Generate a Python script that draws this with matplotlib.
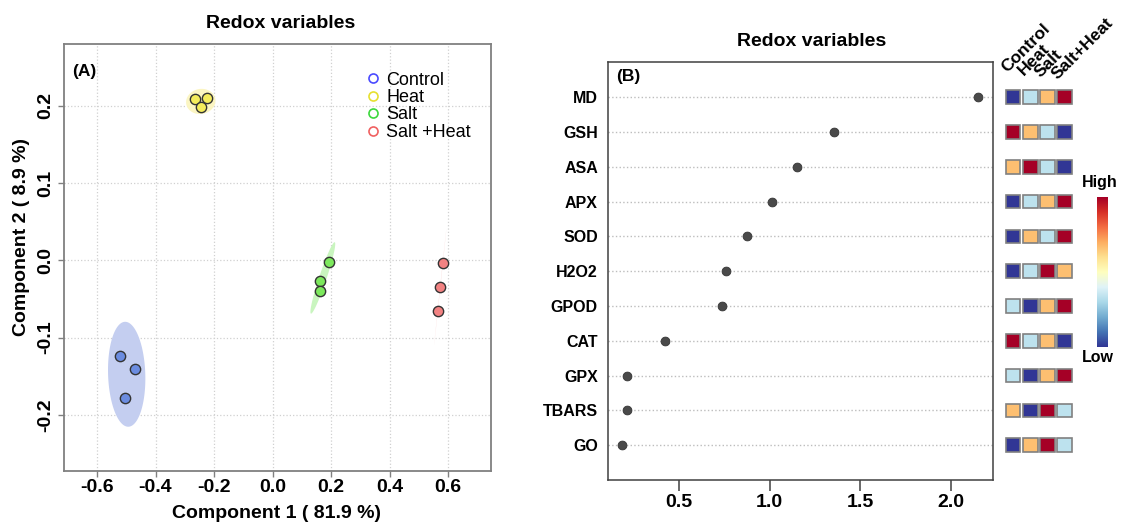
import numpy as np
import matplotlib
matplotlib.use("Agg")
import matplotlib.pyplot as plt
from matplotlib.patches import Rectangle
from matplotlib.lines import Line2D

plt.rcParams['font.family'] = ['Liberation Sans', 'DejaVu Sans']

# ---------------- data ----------------
groups = ['Control', 'Heat', 'Salt', 'Salt +Heat']
ctrl_pc1 = [-0.521, -0.470, -0.505]
ctrl_pc2 = [-0.124, -0.140, -0.178]
heat_pc1 = [-0.266, -0.225, -0.245]
heat_pc2 = [0.209, 0.210, 0.198]
salt_pc1 = [0.192, 0.162, 0.162]
salt_pc2 = [-0.002, -0.027, -0.039]
sh_pc1 = [0.582, 0.573, 0.565]
sh_pc2 = [-0.004, -0.035, -0.065]

x_ticks_a = [-0.6, -0.4, -0.2, 0.0, 0.2, 0.4, 0.6]
y_ticks_a = [-0.2, -0.1, 0.0, 0.1, 0.2]

variables = ['MD', 'GSH', 'ASA', 'APX', 'SOD', 'H2O2', 'GPOD', 'CAT', 'GPX', 'TBARS', 'GO']
vip_scores = [2.149, 1.355, 1.150, 1.011, 0.875, 0.759, 0.735, 0.423, 0.214, 0.212, 0.182]
heat_groups = ['Control', 'Heat', 'Salt', 'Salt+Heat']
# relative level rank (1 = low ... 4 = high) per variable, columns = heat_groups
level_control = [1, 4, 3, 1, 1, 1, 2, 4, 2, 3, 1]
level_heat = [2, 3, 4, 2, 3, 2, 1, 2, 1, 1, 3]
level_salt = [3, 2, 2, 3, 2, 4, 3, 3, 3, 4, 4]
level_saltheat = [4, 1, 1, 4, 4, 3, 4, 1, 4, 2, 2]
x_ticks_b = [0.5, 1.0, 1.5, 2.0]

# ---------------- figure ----------------
W, H = 1121, 524
fig = plt.figure(figsize=(W / 100, H / 100), dpi=100)


def px_axes(x0, y0, x1, y1):
    return fig.add_axes([x0 / W, 1 - y1 / H, (x1 - x0) / W, (y1 - y0) / H])


def ftext(x, y, s, **kw):
    fig.text(x / W, 1 - y / H, s, **kw)


# ---------------- panel A ----------------
axA = px_axes(64, 44, 491, 471)
axA.set_xlim(-0.713, 0.747)
axA.set_ylim(-0.2725, 0.280)
axA.set_xticks(x_ticks_a)
axA.set_yticks(y_ticks_a)
axA.set_xticklabels([f"{v:.1f}" for v in x_ticks_a], fontsize=14, fontweight='bold')
axA.set_yticklabels([f"{v:.1f}" for v in y_ticks_a], fontsize=14, fontweight='bold',
                    rotation=90, va='center')
axA.tick_params(axis='both', length=4, width=1, color='#808080', pad=2)
axA.tick_params(axis='y', pad=3)
axA.grid(True, linestyle=':', color='#d0d0d0', linewidth=0.9)
axA.set_axisbelow(True)
for sp in axA.spines.values():
    sp.set_color('#808080')
    sp.set_linewidth(1.3)

fill_cols = ['#6b8ce0', '#f4ec5c', '#7ce85c', '#f28282']
ell_cols = ['#c4cef0', '#fbf5c2', '#c9f5bf', '#fbdada']
leg_cols = ['#4a4aff', '#e6e030', '#3cd83c', '#f06060']
pc1_all = [ctrl_pc1, heat_pc1, salt_pc1, sh_pc1]
pc2_all = [ctrl_pc2, heat_pc2, salt_pc2, sh_pc2]

k = np.sqrt(5.991)  # 95% chi-square, 2 dof
t = np.linspace(0, 2 * np.pi, 200)
for xs, ys, ec in zip(pc1_all, pc2_all, ell_cols):
    xs = np.asarray(xs); ys = np.asarray(ys)
    cov = np.cov(np.vstack([xs, ys]))
    vals, vecs = np.linalg.eigh(cov)
    vals = np.clip(vals, 1e-9, None)
    circ = np.vstack([np.cos(t), np.sin(t)])
    pts = vecs @ (np.sqrt(vals)[:, None] * circ) * k
    axA.fill(xs.mean() + pts[0], ys.mean() + pts[1], color=ec, lw=0, zorder=1)

for xs, ys, fc in zip(pc1_all, pc2_all, fill_cols):
    axA.scatter(xs, ys, s=55, facecolor=fc, edgecolor='#333333', linewidth=1.0, zorder=3)

handles = [Line2D([], [], marker='o', linestyle='none', markerfacecolor='none',
                  markeredgecolor=c, markersize=6.5, markeredgewidth=1.2) for c in leg_cols]
axA.legend(handles, groups, loc='upper left', bbox_to_anchor=(0.712, 0.935),
           frameon=False, fontsize=13, handlelength=0.6, handletextpad=0.4,
           labelspacing=0.02, borderpad=0, borderaxespad=0)

axA.text(0.018, 0.935, '(A)', transform=axA.transAxes, fontsize=12.5,
         fontweight='bold', ha='left', va='center')
ftext(281, 23, 'Redox variables', fontsize=14, fontweight='bold', ha='center', va='center')
ftext(277, 513, 'Component 1 ( 81.9 %)', fontsize=14, fontweight='bold', ha='center', va='center')
ftext(21.7, 237.5, 'Component 2 ( 8.9 %)', fontsize=14, fontweight='bold', ha='center',
      va='center', rotation=90)

# ---------------- panel B ----------------
axB = px_axes(607.6, 62.3, 992.9, 480)
n = len(variables)
ypos = np.arange(n, 0, -1)
axB.set_xlim(0.105, 2.232)
axB.set_ylim(0, 12)
for y in ypos:
    axB.axhline(y, color='#bdbdbd', linestyle=':', linewidth=1.0, zorder=1)
axB.scatter(vip_scores, ypos, s=40, color='#4a4a4a', edgecolor='#333333', linewidth=0.6, zorder=3)
axB.set_yticks(ypos)
axB.set_yticklabels(variables, fontsize=11.5, fontweight='bold')
axB.set_xticks(x_ticks_b)
axB.set_xticklabels([f"{v:.1f}" for v in x_ticks_b], fontsize=14, fontweight='bold')
axB.tick_params(axis='y', length=0, pad=7)
axB.tick_params(axis='x', length=8, width=1.1, color='#404040', pad=2)
for sp in axB.spines.values():
    sp.set_color('#404040')
    sp.set_linewidth(1.1)
axB.text(0.022, 0.966, '(B)', transform=axB.transAxes, fontsize=12.5,
         fontweight='bold', ha='left', va='center')
ftext(812, 41, 'Redox variables', fontsize=14, fontweight='bold', ha='center', va='center')

# ---------------- heat squares ----------------
axH = px_axes(1004.8, 62.3, 1073.0, 480)
axH.set_xlim(0, 4)
axH.set_ylim(0, 12)
axH.axis('off')
cmap = plt.get_cmap('RdYlBu_r')
levels = [level_control, level_heat, level_salt, level_saltheat]
sw, sh = 0.84, 0.39
for j, col in enumerate(levels):
    for y, lv in zip(ypos, col):
        axH.add_patch(Rectangle((j + 0.5 - sw / 2, y - sh / 2), sw, sh,
                                facecolor=cmap((lv - 1) / 3), edgecolor='#808080',
                                linewidth=1.2, clip_on=False))
for j, g in enumerate(heat_groups):
    axH.text(j + 0.12, 11.68 - 0.06 * j, g, rotation=45, rotation_mode='anchor',
             ha='left', va='baseline', fontsize=12.5, fontweight='bold')

# ---------------- color bar ----------------
axC = px_axes(1097, 196.7, 1108, 346.7)
grad = np.linspace(0, 1, 256).reshape(-1, 1)
axC.imshow(grad, cmap=cmap, aspect='auto', origin='lower')
axC.axis('off')
ftext(1100, 182, 'High', fontsize=11.5, fontweight='bold', ha='center', va='center')
ftext(1098, 358, 'Low', fontsize=11.5, fontweight='bold', ha='center', va='center')

fig.savefig('out.png', dpi=100)
